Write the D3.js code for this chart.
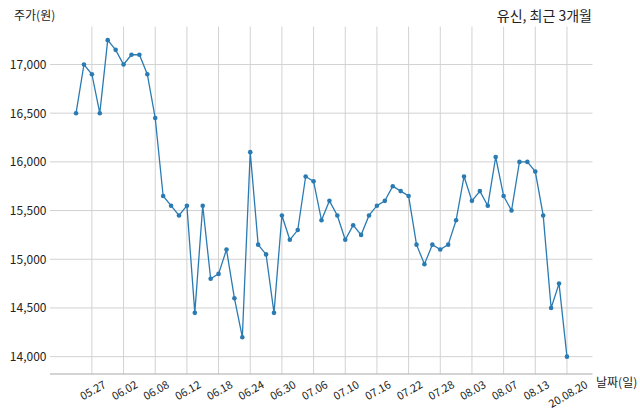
<!DOCTYPE html>
<html><head><meta charset="utf-8">
<script src="https://cdn.jsdelivr.net/npm/d3@7"></script>
<style>body{margin:0;background:#fff}svg{display:block}text{font-family:"Noto Sans CJK KR","Noto Sans",sans-serif}</style>
</head><body><svg id="c" width="640" height="414"></svg>
<script>
const dates = ["05.25","05.26","05.27","05.28","05.29","06.01","06.02","06.03","06.04","06.05","06.08","06.09","06.10","06.11","06.12","06.15","06.16","06.17","06.18","06.19","06.22","06.23","06.24","06.25","06.26","06.29","06.30","07.01","07.02","07.03","07.06","07.07","07.08","07.09","07.10","07.13","07.14","07.15","07.16","07.17","07.20","07.21","07.22","07.23","07.24","07.27","07.28","07.29","07.30","07.31","08.03","08.04","08.05","08.06","08.07","08.10","08.11","08.12","08.13","08.14","08.18","08.19","08.20"];
const prices = [16500,17000,16900,16500,17250,17150,17000,17100,17100,16900,16450,15650,15550,15450,15550,14450,15550,14800,14850,15100,14600,14200,16100,15150,15050,14450,15450,15200,15300,15850,15800,15400,15600,15450,15200,15350,15250,15450,15550,15600,15750,15700,15650,15150,14950,15150,15100,15150,15400,15850,15600,15700,15550,16050,15650,15500,16000,16000,15900,15450,14500,14750,14000];
const xTickIdx = [2,6,10,14,18,22,26,30,34,38,42,46,50,54,58,62];
const xTickLabels = ["05.27","06.02","06.08","06.12","06.18","06.24","06.30","07.06","07.10","07.16","07.22","07.28","08.03","08.07","08.13","20.08.20"];
const yTicks = [14000,14500,15000,15500,16000,16500,17000];
const title = "유신, 최근 3개월", yLabel = "주가(원)", xLabel = "날짜(일)";

const svg = d3.select("#c");
const L = 50, R = 592.5, T = 26.5, B = 374;
const x = d3.scaleLinear().domain([-3.1, 65.1]).range([51.5, 591.5]);
const y = d3.scaleLinear().domain([13822, 17390]).range([B, T]);
const color = "#2b7bb3";

// grid
svg.append("g").selectAll("line").data(xTickIdx).join("line")
  .attr("x1", d => x(d)).attr("x2", d => x(d)).attr("y1", T).attr("y2", B)
  .attr("stroke", "#d2d2d2").attr("stroke-width", 1);
svg.append("g").selectAll("line").data(yTicks).join("line")
  .attr("x1", L).attr("x2", R).attr("y1", d => y(d)).attr("y2", d => y(d))
  .attr("stroke", "#d2d2d2").attr("stroke-width", 1);

// x axis
const xa = svg.append("g").attr("transform", `translate(0,${B})`)
  .call(d3.axisBottom(x).tickValues(xTickIdx).tickSize(0).tickFormat((d, i) => xTickLabels[i]));
xa.select(".domain").attr("d", `M${L},0H${R}`).attr("stroke", "#aaa").attr("stroke-width", 1.2);
const fs = 11;
xa.selectAll("text").attr("font-size", fs).attr("fill", "#222")
  .attr("text-anchor", "middle").attr("dominant-baseline", "central")
  .attr("x", 0).attr("y", 0).attr("dy", null)
  .attr("transform", function () {
    const w = this.getComputedTextLength();
    const h = fs * 0.95;
    const bh = w * 0.5 + h * 0.866;
    return `translate(0,${4 + bh / 2}) rotate(-30)`;
  });

// y axis
const ya = svg.append("g").attr("transform", `translate(${L - 3.5},0)`)
  .call(d3.axisLeft(y).tickValues(yTicks).tickSize(0).tickFormat(d3.format(",")));
ya.select(".domain").remove();
ya.selectAll("text").attr("font-size", 12).attr("fill", "#222").attr("x", 0);

// line
svg.append("path").datum(prices)
  .attr("d", d3.line().x((d, i) => x(i)).y(d => y(d)))
  .attr("fill", "none").attr("stroke", color).attr("stroke-width", 1.3);
svg.append("g").selectAll("circle").data(prices).join("circle")
  .attr("cx", (d, i) => x(i)).attr("cy", d => y(d)).attr("r", 2.3).attr("fill", color);

svg.append("text").attr("x", 14).attr("y", 20).attr("font-size", 12).attr("fill", "#222").text(yLabel);
svg.append("text").attr("x", 592).attr("y", 21).attr("font-size", 14).attr("text-anchor", "end").attr("fill", "#222").text(title);
svg.append("text").attr("x", 596).attr("y", 387).attr("font-size", 12).attr("fill", "#222").text(xLabel);
</script></body></html>
